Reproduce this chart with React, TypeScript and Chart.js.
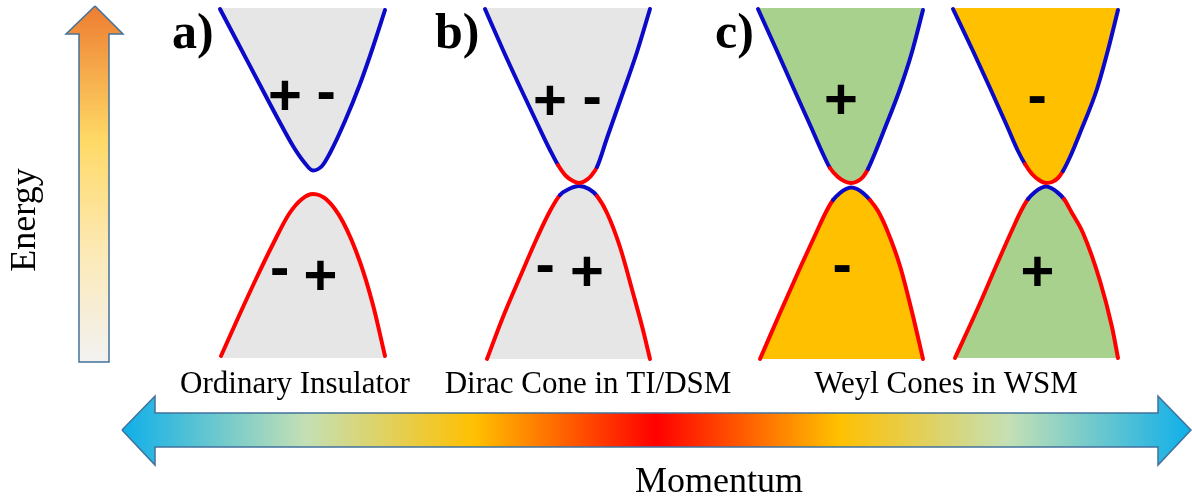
import React, { useEffect, useRef } from "react";
import { Chart, registerables } from "chart.js";

Chart.register(...registerables);

// ---------------- data ----------------
// momentum k (horizontal) and energy E (vertical, axis runs downward on the page)
const insulatorUpper = [[220, 9], [240, 47], [260, 85], [278, 119], [293, 146], [304, 162], [313, 170.5], [322, 166], [330, 153], [345, 121], [360, 84], [373, 47], [385, 10]];
const insulatorLower = [[221, 356], [238, 318], [256, 279], [273, 244], [289, 214], [302, 199], [313, 194], [327, 200], [343, 222], [360, 262], [373, 305], [385, 356]];
const diracUpper = [[485, 9], [503, 50], [520, 87], [537, 123], [550, 150], [558, 165], [566, 176], [573, 181], [579, 183], [585, 181], [591, 176], [597, 167], [607, 138], [620, 101], [637, 52], [650, 9]];
const diracLower = [[487, 359], [503, 317], [520, 277], [537, 238], [550, 211], [560, 195], [569, 189], [579, 186], [589, 189], [597, 196], [607, 213], [620, 247], [633, 293], [643, 330], [650, 359]];
const weylLeftUpper = [[758, 9], [777, 51], [793, 87], [811, 127], [823, 154], [830, 168], [838, 177], [845, 181.5], [851, 183], [857, 181.5], [863, 177], [868, 169], [875, 153], [883, 133], [900, 89], [912, 52], [923, 10]];
const weylLeftLower = [[760, 359], [780, 313], [800, 268], [817, 231], [826, 212], [833, 200], [840, 193], [846, 189], [851, 187.5], [857, 189], [863, 193], [870, 200], [878, 211], [887, 230], [900, 266], [912, 312], [923, 359]];
const weylRightUpper = [[953, 9], [973, 51], [990, 88], [1007, 126], [1018, 151], [1025, 164], [1032, 174], [1039, 180], [1046, 183], [1052, 182], [1058, 178], [1063, 171], [1070, 157], [1080, 133], [1097, 89], [1108, 50], [1118, 10]];
const weylRightLower = [[955, 358], [977, 310], [997, 264], [1013, 228], [1021, 211], [1028, 199], [1035, 192], [1041, 188], [1046, 186.5], [1051, 188], [1057, 192], [1064, 199], [1072, 213], [1083, 233], [1100, 281], [1112, 327], [1118, 358]];

// colour-swap ranges near the touching points [kFrom, kTo]
const diracUpperSwap = [558, 595];
const diracLowerSwap = [560, 597];
const weylLeftUpperSwap = [830, 868];
const weylLeftLowerSwap = [833, 870];
const weylRightUpperSwap = [1025, 1063];
const weylRightLowerSwap = [1028, 1064];

const bandTop = 8;
const bandBottom = 358;

// arrows (outline points)
const energyArrow = [[95, 6], [123, 34], [109, 34], [109, 362], [79, 362], [79, 34], [66, 34], [95, 6]];
const momentumArrow = [[122, 430], [155, 396], [155, 413], [1158, 413], [1158, 396], [1191, 430], [1158, 465], [1158, 447], [155, 447], [155, 465], [122, 430]];
const energyStopsE = [6, 140, 250, 362];
const energyStopsColor = ["#ed7d31", "#ffd966", "#fce9b4", "#f2f2f2"];
const momentumStopsK = [122, 307, 475, 656, 838, 1008, 1191];
const momentumStopsColor = ["#0fafe9", "#c5e0b4", "#ffc000", "#ff0000", "#ffc000", "#c5e0b4", "#0fafe9"];

// texts
const signText = ["+", "-", "-", "+", "+", "-", "-", "+", "+", "-", "-", "+"];
const signK = [285, 326, 279.5, 320.5, 550, 592, 545, 587, 841, 842, 1037, 1037.5];
const signE = [95, 95, 271, 275, 100, 100, 268, 271, 99, 268, 99, 271];
const captions = ["Ordinary Insulator", "Dirac Cone in TI/DSM", "Weyl Cones in WSM"];
const captionK = [295, 588, 946];
const captionE = 393;
const panelLabels = ["a)", "b)", "c)"];
const panelK = [172, 435, 715];
const panelE = 48;
const energyTitle = "Energy";
const momentumTitle = "Momentum";

// ---------------- styles ----------------
const BLUE = "#0a0ac8";
const RED = "#ff0000";
const GRAY = "#e7e6e6";
const GREEN = "#a9d18e";
const ORANGE = "#ffc000";
const OUTLINE = "#41719c";
const SERIF = '"Liberation Serif", "Times New Roman", serif';
const SANS = '"Liberation Sans", Arial, sans-serif';

const toPts = (a: number[][]) => a.map(([x, y]) => ({ x, y }));

function band(data: number[][], fillTo: number, fillColor: string, outer: string, inner: string, swap: number[] | null) {
  return {
    data: toPts(data),
    showLine: true,
    pointRadius: 0,
    borderWidth: 4,
    borderColor: outer,
    backgroundColor: fillColor,
    fill: { value: fillTo },
    cubicInterpolationMode: "monotone",
    borderCapStyle: "round",
    borderJoinStyle: "round",
    segment: {
      borderColor: (c: any) => {
        if (!swap) return outer;
        const m = (data[c.p0DataIndex][0] + data[c.p1DataIndex][0]) / 2;
        return m > swap[0] && m < swap[1] ? inner : outer;
      },
    },
  };
}

function arrow(data: number[][], bg: (c: any) => any) {
  return {
    data: toPts(data),
    showLine: true,
    pointRadius: 0,
    borderWidth: 1.5,
    borderColor: OUTLINE,
    backgroundColor: bg,
    fill: "shape",
    tension: 0,
    borderJoinStyle: "miter",
  };
}

const hGradient = (c: any) => {
  const chart = c.chart;
  if (!chart.chartArea) return ORANGE;
  const xs = chart.scales.x;
  const x0 = xs.getPixelForValue(momentumStopsK[0]);
  const x1 = xs.getPixelForValue(momentumStopsK[momentumStopsK.length - 1]);
  const g = chart.ctx.createLinearGradient(x0, 0, x1, 0);
  momentumStopsK.forEach((k, i) => g.addColorStop((xs.getPixelForValue(k) - x0) / (x1 - x0), momentumStopsColor[i]));
  return g;
};

const vGradient = (c: any) => {
  const chart = c.chart;
  if (!chart.chartArea) return ORANGE;
  const ys = chart.scales.y;
  const y0 = ys.getPixelForValue(energyStopsE[0]);
  const y1 = ys.getPixelForValue(energyStopsE[energyStopsE.length - 1]);
  const g = chart.ctx.createLinearGradient(0, y0, 0, y1);
  energyStopsE.forEach((e, i) => g.addColorStop((ys.getPixelForValue(e) - y0) / (y1 - y0), energyStopsColor[i]));
  return g;
};

const textPlugin = {
  id: "schematicText",
  afterDraw(chart: any) {
    const { ctx } = chart;
    const xs = chart.scales.x;
    const ys = chart.scales.y;
    ctx.save();
    ctx.fillStyle = "#000";
    ctx.textBaseline = "alphabetic";

    // panel labels
    ctx.font = `bold 50px ${SERIF}`;
    ctx.textAlign = "left";
    panelLabels.forEach((t, i) => ctx.fillText(t, xs.getPixelForValue(panelK[i]), ys.getPixelForValue(panelE)));

    // captions
    ctx.font = `31px ${SERIF}`;
    ctx.textAlign = "center";
    captions.forEach((t, i) => ctx.fillText(t, xs.getPixelForValue(captionK[i]), ys.getPixelForValue(captionE)));

    // axis titles
    ctx.font = `36px ${SERIF}`;
    ctx.fillText(momentumTitle, xs.getPixelForValue(719), ys.getPixelForValue(492));
    ctx.save();
    ctx.translate(xs.getPixelForValue(26), ys.getPixelForValue(220));
    ctx.rotate(-Math.PI / 2);
    ctx.textBaseline = "middle";
    ctx.fillText(energyTitle, 0, 0);
    ctx.restore();

    // band signs, centred on their ink
    ctx.font = `bold 58px ${SANS}`;
    ctx.textAlign = "left";
    signText.forEach((s, i) => {
      const m = ctx.measureText(s);
      const cx = xs.getPixelForValue(signK[i]);
      const cy = ys.getPixelForValue(signE[i]);
      const px = cx - (m.actualBoundingBoxRight - m.actualBoundingBoxLeft) / 2;
      const py = cy + (m.actualBoundingBoxAscent - m.actualBoundingBoxDescent) / 2;
      ctx.fillText(s, px, py);
    });
    ctx.restore();
  },
};

export default function App() {
  const ref = useRef<HTMLCanvasElement>(null);
  useEffect(() => {
    const datasets: any[] = [
      band(insulatorUpper, bandTop, GRAY, BLUE, BLUE, null),
      band(insulatorLower, bandBottom, GRAY, RED, RED, null),
      band(diracUpper, bandTop, GRAY, BLUE, RED, diracUpperSwap),
      band(diracLower, bandBottom + 1, GRAY, RED, BLUE, diracLowerSwap),
      band(weylLeftUpper, bandTop, GREEN, BLUE, RED, weylLeftUpperSwap),
      band(weylLeftLower, bandBottom + 1, ORANGE, RED, BLUE, weylLeftLowerSwap),
      band(weylRightUpper, bandTop, ORANGE, BLUE, RED, weylRightUpperSwap),
      band(weylRightLower, bandBottom, GREEN, RED, BLUE, weylRightLowerSwap),
      arrow(energyArrow, vGradient),
      arrow(momentumArrow, hGradient),
    ];
    const chart = new Chart(ref.current as HTMLCanvasElement, {
      type: "scatter",
      data: { datasets },
      options: {
        responsive: false,
        maintainAspectRatio: false,
        devicePixelRatio: 1,
        animation: false,
        events: [],
        layout: { padding: 0 },
        plugins: { legend: { display: false }, tooltip: { enabled: false } },
        scales: {
          x: { type: "linear", min: 0, max: 1192, display: false },
          y: { type: "linear", min: 0, max: 499, reverse: true, display: false },
        },
      } as any,
      plugins: [textPlugin],
    });
    return () => chart.destroy();
  }, []);
  return (
    <div style={{ position: "fixed", left: 0, top: 0, width: 1192, height: 499, background: "#fff" }}>
      <canvas ref={ref} width={1192} height={499} style={{ display: "block" }} />
    </div>
  );
}
